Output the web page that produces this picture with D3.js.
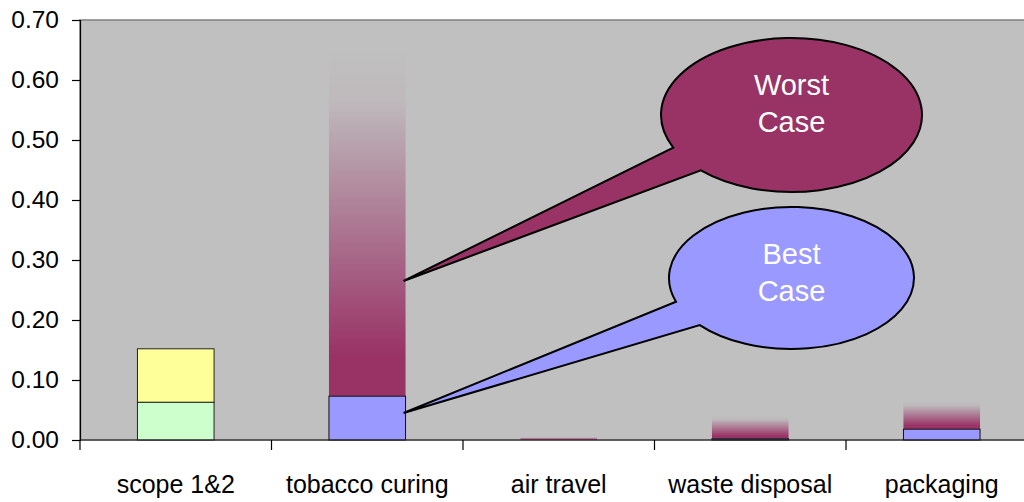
<!DOCTYPE html>
<html>
<head>
<meta charset="utf-8">
<script src="https://cdn.jsdelivr.net/npm/d3@7"></script>
<style>
  body { margin: 0; background: #fff; }
  svg { display: block; font-family: 'Liberation Sans', Arial, sans-serif; }
</style>
</head>
<body>
<svg></svg>
<script>
'use strict';

const svgWidth = 1024;
const svgHeight = 502;

// chart values
const categories = ['scope 1&2', 'tobacco curing', 'air travel', 'waste disposal', 'packaging'];
const scope1 = [0.063, 0, 0, 0, 0];
const scope2 = [0.089, 0, 0, 0, 0];
const bestCase = [0, 0.073, 0.000, 0.002, 0.018];
const worstCase = [0, 0.650, 0.005, 0.040, 0.065];
const yTicks = [0, 0.1, 0.2, 0.3, 0.4, 0.5, 0.6, 0.7];

const margin = { top: 20, left: 80, bottom: 62 };
const bandW = 191.5;

const svg = d3.select('svg')
  .attr('width', svgWidth)
  .attr('height', svgHeight);

const x = d3.scaleBand()
  .domain(categories)
  .range([margin.left, margin.left + bandW * categories.length])
  .paddingInner(0.6)
  .paddingOuter(0.3);

const y = d3.scaleLinear()
  .domain([0, 0.7])
  .range([svgHeight - margin.bottom, margin.top]);

const defs = svg.append('defs');
const grad = defs.append('linearGradient')
  .attr('id', 'worstGrad')
  .attr('x1', 0).attr('y1', 0)
  .attr('x2', 0).attr('y2', 1);
grad.append('stop').attr('offset', '0%').attr('stop-color', '#993366').attr('stop-opacity', 0);
grad.append('stop').attr('offset', '15%').attr('stop-color', '#993366').attr('stop-opacity', 0.05);
grad.append('stop').attr('offset', '88%').attr('stop-color', '#993366').attr('stop-opacity', 1);
grad.append('stop').attr('offset', '100%').attr('stop-color', '#993366').attr('stop-opacity', 1);

// plot area
svg.append('rect')
  .attr('x', margin.left)
  .attr('y', margin.top)
  .attr('width', bandW * categories.length)
  .attr('height', y(0) - margin.top)
  .attr('fill', '#c0c0c0')
  .attr('stroke', '#808080')
  .attr('stroke-width', 1.5);

const barsG = svg.append('g');

// scope 1&2 stacked
barsG.selectAll('rect.s1')
  .data(categories.filter((c, i) => scope1[i] > 0))
  .join('rect')
  .attr('class', 's1')
  .attr('x', d => x(d))
  .attr('width', x.bandwidth())
  .attr('y', d => y(scope1[categories.indexOf(d)]))
  .attr('height', d => y(0) - y(scope1[categories.indexOf(d)]))
  .attr('fill', '#ccffcc')
  .attr('stroke', '#222')
  .attr('stroke-width', 1);

barsG.selectAll('rect.s2')
  .data(categories.filter((c, i) => scope2[i] > 0))
  .join('rect')
  .attr('class', 's2')
  .attr('x', d => x(d))
  .attr('width', x.bandwidth())
  .attr('y', d => { let i = categories.indexOf(d); return y(scope1[i] + scope2[i]); })
  .attr('height', d => { let i = categories.indexOf(d); return y(scope1[i]) - y(scope1[i] + scope2[i]); })
  .attr('fill', '#ffff99')
  .attr('stroke', '#222')
  .attr('stroke-width', 1);

// worst case gradient, stacked on top of best case
barsG.selectAll('rect.worst')
  .data(categories.filter((c, i) => worstCase[i] > 0))
  .join('rect')
  .attr('class', 'worst')
  .attr('x', d => x(d))
  .attr('width', x.bandwidth())
  .attr('y', d => y(worstCase[categories.indexOf(d)]))
  .attr('height', d => { let i = categories.indexOf(d); return y(bestCase[i]) - y(worstCase[i]); })
  .attr('fill', 'url(#worstGrad)');

barsG.selectAll('rect.best')
  .data(categories.filter((c, i) => bestCase[i] > 0))
  .join('rect')
  .attr('class', 'best')
  .attr('x', d => x(d))
  .attr('width', x.bandwidth())
  .attr('y', d => y(bestCase[categories.indexOf(d)]))
  .attr('height', d => y(0) - y(bestCase[categories.indexOf(d)]))
  .attr('fill', '#9999ff')
  .attr('stroke', '#111')
  .attr('stroke-width', 1);

// y axis
const yAxis = svg.append('g')
  .attr('transform', `translate(${margin.left},0)`)
  .call(d3.axisLeft(y).tickValues(yTicks).tickFormat(d3.format('.2f')).tickSize(8).tickPadding(13));
yAxis.select('.domain').attr('stroke', '#000').attr('stroke-width', 1.2);
yAxis.selectAll('.tick line').attr('stroke', '#000').attr('stroke-width', 1.2);
yAxis.selectAll('.tick text')
  .attr('font-size', 24.5)
  .attr('font-family', "'Liberation Sans', Arial, sans-serif")
  .attr('fill', '#000');

// x axis with ticks at band boundaries
const xAxisG = svg.append('g');
xAxisG.append('line')
  .attr('x1', margin.left).attr('x2', svgWidth)
  .attr('y1', y(0)).attr('y2', y(0))
  .attr('stroke', '#222').attr('stroke-width', 1.2);
xAxisG.selectAll('line.tk')
  .data(d3.range(categories.length + 1))
  .join('line')
  .attr('class', 'tk')
  .attr('x1', i => margin.left + i * bandW)
  .attr('x2', i => margin.left + i * bandW)
  .attr('y1', y(0))
  .attr('y2', y(0) + 10)
  .attr('stroke', '#000')
  .attr('stroke-width', 1.2);
xAxisG.selectAll('text')
  .data(categories)
  .join('text')
  .attr('x', d => x(d) + x.bandwidth() / 2)
  .attr('y', 493)
  .attr('text-anchor', 'middle')
  .attr('font-size', 25)
  .attr('fill', '#000')
  .text(d => d);

// callouts
function callout(cx, cy, rx, ry, a1, a2, tip, fill, lines, base) {
  let p1 = [cx + rx * Math.cos(a1), cy + ry * Math.sin(a1)];
  let p2 = [cx + rx * Math.cos(a2), cy + ry * Math.sin(a2)];
  let g = svg.append('g');
  g.append('path')
    .attr('d', `M${p1[0]},${p1[1]} A${rx},${ry} 0 1,1 ${p2[0]},${p2[1]} L${tip[0]},${tip[1]} Z`)
    .attr('fill', fill)
    .attr('stroke', '#000')
    .attr('stroke-width', 2)
    .attr('stroke-linejoin', 'miter');
  g.selectAll('text')
    .data(lines)
    .join('text')
    .attr('x', cx)
    .attr('y', (d, i) => base + i * 37)
    .attr('text-anchor', 'middle')
    .attr('font-size', 29)
    .attr('fill', '#fff')
    .text(d => d);
}

const deg = Math.PI / 180;
const tipX = x('tobacco curing') + x.bandwidth() - 2;

callout(791.5, 115, 130.5, 77, 155 * deg, 134 * deg,
  [tipX, y(0.265)], '#993366', ['Worst', 'Case'], 95);
callout(791.5, 278, 122.5, 71, 160.5 * deg, 138.5 * deg,
  [tipX, y(0.045)], '#9999ff', ['Best', 'Case'], 264);
</script>
</body>
</html>
